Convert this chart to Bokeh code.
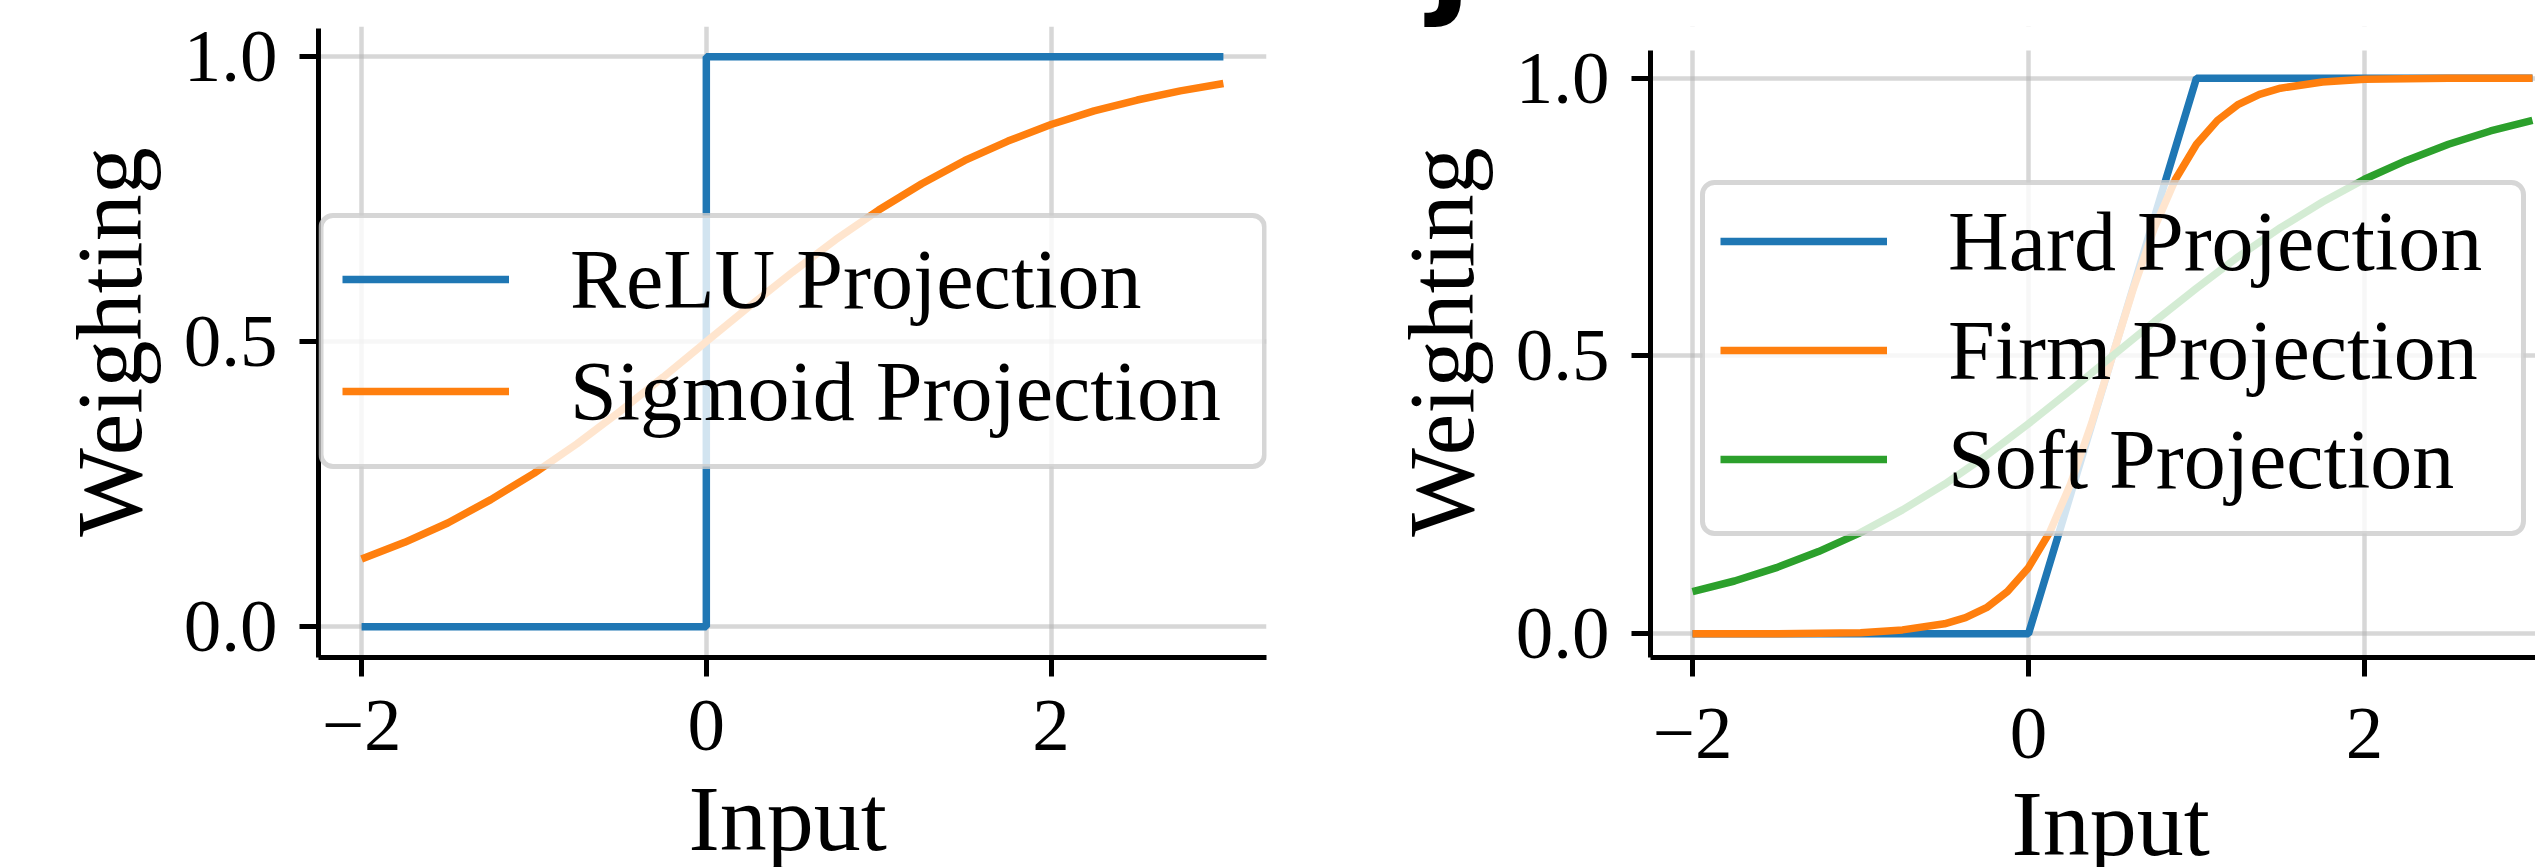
from bokeh.plotting import figure
from bokeh.models import (Range1d, FixedTicker, Legend, LegendItem, Title,
                          BoxAnnotation)
from bokeh.layouts import row
from bokeh.embed import file_html
from bokeh.resources import INLINE

# ---------------- data ----------------
relu_x = [-2.0, 0.0, 0.0, 3.0]
relu_y = [0.0, 0.0, 1.0, 1.0]

sig_x = [-2.0, -1.75, -1.5, -1.25, -1.0, -0.75, -0.5, -0.25, 0.0, 0.25, 0.5,
         0.75, 1.0, 1.25, 1.5, 1.75, 2.0, 2.25, 2.5, 2.75, 3.0]
sig_y = [0.119, 0.148, 0.182, 0.223, 0.269, 0.321, 0.378, 0.438, 0.500, 0.562, 0.622,
         0.679, 0.731, 0.777, 0.818, 0.852, 0.881, 0.905, 0.924, 0.940, 0.953]

hard_x = [-2.0, 0.0, 1.0, 3.0]
hard_y = [0.0, 0.0, 1.0, 1.0]

firm_x = [-2.0, -1.5, -1.0, -0.75, -0.5, -0.375, -0.25, -0.125, 0.0, 0.125, 0.25,
          0.375, 0.5, 0.625, 0.75, 0.875, 1.0, 1.125, 1.25, 1.375, 1.5, 1.75,
          2.0, 2.5, 3.0]
firm_y = [0.000, 0.000, 0.002, 0.007, 0.018, 0.029, 0.047, 0.076, 0.119, 0.182, 0.269,
          0.378, 0.500, 0.622, 0.731, 0.818, 0.881, 0.924, 0.953, 0.971, 0.982, 0.993,
          0.998, 1.000, 1.000]

soft_x = [-2.0, -1.75, -1.5, -1.25, -1.0, -0.75, -0.5, -0.25, 0.0, 0.25, 0.5,
          0.75, 1.0, 1.25, 1.5, 1.75, 2.0, 2.25, 2.5, 2.75, 3.0]
soft_y = [0.076, 0.095, 0.119, 0.148, 0.182, 0.223, 0.269, 0.321, 0.378, 0.438, 0.500,
          0.562, 0.622, 0.679, 0.731, 0.777, 0.818, 0.852, 0.881, 0.905, 0.924]

x_ticks = [-2.0, 0.0, 2.0]
x_tick_labels = ["\u22122", "0", "2"]
y_ticks = [0.0, 0.5, 1.0]
y_tick_labels = ["0.0", "0.5", "1.0"]

x_label = "Input"
y_label = "Weighting"
left_names = ["ReLU Projection", "Sigmoid Projection"]
right_names = ["Hard Projection", "Firm Projection", "Soft Projection"]
panel_label = "j"

BLUE = "#1f77b4"
ORANGE = "#ff7f0e"
GREEN = "#2ca02c"
SERIF = "Liberation Serif"
LW = 7.5


def style(p, xstand, title_stand, title_offset):
    p.outline_line_color = None
    p.background_fill_color = "white"
    p.border_fill_color = "white"
    p.xaxis.ticker = FixedTicker(ticks=x_ticks)
    p.yaxis.ticker = FixedTicker(ticks=y_ticks)
    p.xgrid.ticker = FixedTicker(ticks=x_ticks)
    p.ygrid.ticker = FixedTicker(ticks=y_ticks)
    p.xaxis.major_label_overrides = dict(zip(x_ticks, x_tick_labels))
    p.yaxis.major_label_overrides = dict(zip(y_ticks, y_tick_labels))
    for ax in [p.xaxis[0], p.yaxis[0]]:
        ax.axis_line_width = 5
        ax.axis_line_color = "black"
        ax.major_tick_line_width = 5
        ax.major_tick_line_color = "black"
        ax.major_tick_out = 19
        ax.major_tick_in = 0
        ax.minor_tick_out = 0
        ax.minor_tick_in = 0
        ax.major_label_text_font = SERIF
        ax.major_label_text_font_size = "75px"
        ax.major_label_text_color = "black"
    p.yaxis.bounds = (-0.2, 1.05)
    p.xaxis.major_label_standoff = xstand
    p.yaxis.major_label_standoff = 22
    p.yaxis.axis_label = y_label
    p.yaxis.axis_label_text_font = SERIF
    p.yaxis.axis_label_text_font_size = "94px"
    p.yaxis.axis_label_text_font_style = "normal"
    p.yaxis.axis_label_text_color = "black"
    p.yaxis.axis_label_standoff = 20
    for g in [p.xgrid[0], p.ygrid[0]]:
        g.grid_line_color = "#b0b0b0"
        g.grid_line_alpha = 0.5
        g.grid_line_width = 4.5
    # invisible spacer between the tick labels and the x-axis title
    p.add_layout(Title(text=" ", standoff=57, text_font_size="1px",
                       text_color="white"), "below")
    p.add_layout(Title(text=x_label, align="left", offset=title_offset,
                       standoff=title_stand, text_font=SERIF, text_font_size="94px",
                       text_font_style="normal", text_color="black"), "below")


def legend_frame(p, left, right, top, bottom):
    box = BoxAnnotation(left=left, right=right, top=top, bottom=bottom,
                        fill_color="white", fill_alpha=0.8,
                        line_color="#cccccc", line_alpha=0.8, line_width=5)
    if "border_radius" in BoxAnnotation.properties():
        box.border_radius = 12
    p.add_layout(box)


def make_legend(items, loc, spacing):
    return Legend(items=items, location=loc, margin=0, padding=0, spacing=spacing,
                  glyph_width=167, glyph_height=102, label_height=102, label_standoff=61,
                  label_text_font=SERIF, label_text_font_size="84px",
                  label_text_color="black",
                  border_line_color=None, background_fill_alpha=0.0)


# ---------------- left panel ----------------
p1 = figure(width=1300, height=867, output_backend="svg", toolbar_location=None,
            x_range=Range1d(-2.25, 3.25), y_range=Range1d(-0.054, 1.053),
            min_border_left=318, min_border_right=34, min_border_top=26,
            min_border_bottom=210)
r_relu = p1.line(relu_x, relu_y, line_color=BLUE, line_width=LW)
r_sig = p1.line(sig_x, sig_y, line_color=ORANGE, line_width=LW)
style(p1, 24, -98, 370)
# legend frame: pixels 320..1264 x 215..466 converted to data units
legend_frame(p1, -2.25 + 2.5 / 172.36, -2.25 + 946 / 172.36,
             1.053 - 189 / 570.0, 1.053 - 440 / 570.0)
p1.add_layout(make_legend([LegendItem(label=left_names[0], renderers=[r_relu]),
                           LegendItem(label=left_names[1], renderers=[r_sig])],
                          (24, 215), 10))

# ---------------- right panel ----------------
p2 = figure(width=1235, height=867, output_backend="svg", toolbar_location=None,
            x_range=Range1d(-2.25, 3.018), y_range=Range1d(-0.0427, 1.093),
            min_border_left=350, min_border_right=0, min_border_top=26,
            min_border_bottom=210)
p2.add_layout(BoxAnnotation(bottom=1.05, fill_color="white", fill_alpha=1.0,
                            line_color=None, level="underlay"))
r_hard = p2.line(hard_x, hard_y, line_color=BLUE, line_width=LW)
r_firm = p2.line(firm_x, firm_y, line_color=ORANGE, line_width=LW)
r_soft = p2.line(soft_x, soft_y, line_color=GREEN, line_width=LW)
style(p2, 32, -109, 361)
# legend frame: pixels 1702..2523 x 182..533 converted to data units
legend_frame(p2, -2.25 + 52 / 168.0, -2.25 + 873 / 168.0,
             1.093 - 156 / 555.6, 1.093 - 507 / 555.6)
p2.add_layout(make_legend([LegendItem(label=right_names[0], renderers=[r_hard]),
                           LegendItem(label=right_names[1], renderers=[r_firm]),
                           LegendItem(label=right_names[2], renderers=[r_soft])],
                          (70, 147), 7))
# panel letter: only its lowest part lies inside the picture (top edge)
p2.add_layout(Title(text=panel_label, align="left", offset=-222, standoff=-1873,
                    vertical_align="top",
                    text_font="DejaVu Sans", text_font_style="bold",
                    text_font_size="125px", text_color="black"), "below")

layout = row(p1, p2)
open("out.html", "w").write(file_html(layout, INLINE))
